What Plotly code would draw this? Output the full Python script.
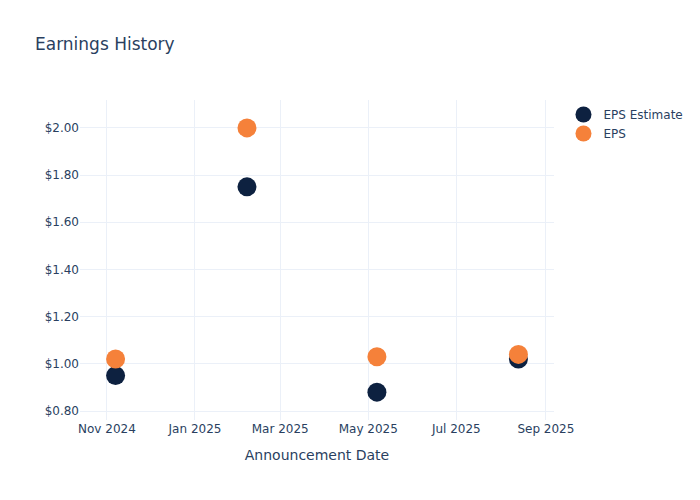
import plotly.graph_objects as go

dates = ["2024-11-07", "2025-02-06", "2025-05-07", "2025-08-13"]
eps_estimate = [0.95, 1.75, 0.88, 1.02]
eps_actual = [1.02, 2.00, 1.03, 1.04]

fig = go.Figure()
fig.add_trace(go.Scatter(x=dates, y=eps_estimate, mode="markers", name="EPS Estimate",
                         marker=dict(color="#0d2140", size=19)))
fig.add_trace(go.Scatter(x=dates, y=eps_actual, mode="markers", name="EPS",
                         marker=dict(color="#f5813a", size=19)))
fig.update_layout(
    template="plotly_white",
    width=700, height=500,
    font=dict(family="DejaVu Sans"),
    title=dict(text="Earnings History"),
    xaxis=dict(title=dict(text="Announcement Date")),
    yaxis=dict(tickprefix="$", tickformat=".2f"),
)
fig.write_html("out.html", config={"displayModeBar": False},
               post_script="document.body.style.margin='0';")
